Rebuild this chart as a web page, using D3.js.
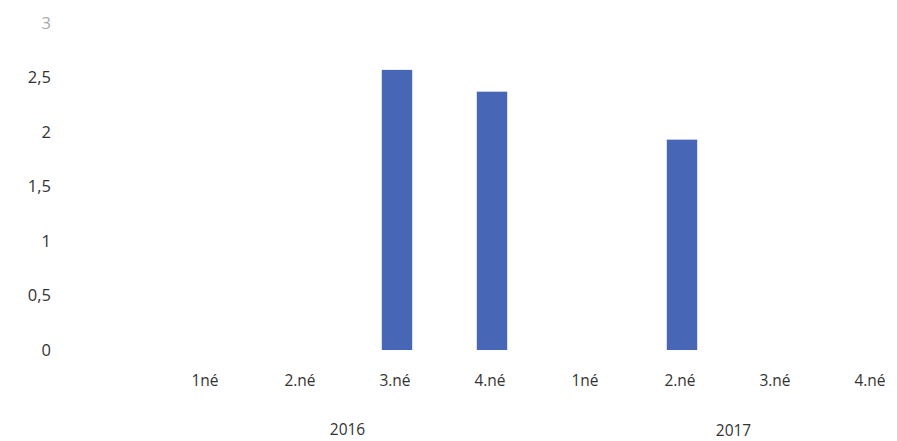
<!DOCTYPE html>
<html>
<head>
<meta charset="utf-8">
<script src="https://cdnjs.cloudflare.com/ajax/libs/d3/7.8.5/d3.min.js"></script>
<style>
  body { margin: 0; background: #fff; }
  text { font-family: "Open Sans", "Liberation Sans", sans-serif; }
</style>
</head>
<body>
<svg width="897" height="441"></svg>
<script>
// data
const years = ['2016', '2017'];
const quarters = ['1né', '2.né', '3.né', '4.né'];
const values2016 = [0, 0, 2.57, 2.37];
const values2017 = [0, 1.93, 0, 0];
const yTicks = [0, 0.5, 1, 1.5, 2, 2.5, 3];

const rows = [];
years.forEach((yr, i) => {
  const vals = i === 0 ? values2016 : values2017;
  quarters.forEach((q, j) => rows.push({ id: yr + '-' + j, year: yr, label: q, value: vals[j] }));
});

const svg = d3.select('svg');
const x = d3.scaleBand()
  .domain(rows.map(d => d.id))
  .range([159.5, 919.5])
  .paddingInner(0.68)
  .paddingOuter(0.34);
const y = d3.scaleLinear().domain([0, 3]).range([350, 23]);

const fmt = d => String(d).replace('.', ',');

// y axis labels
const yAxis = svg.append('g')
  .attr('transform', 'translate(51,0)')
  .call(d3.axisLeft(y).tickValues(yTicks).tickFormat(fmt).tickSize(0).tickPadding(0));
yAxis.select('.domain').remove();
yAxis.selectAll('text')
  .attr('font-size', 16.5)
  .attr('fill', d => d === 3 ? '#aaa' : '#333');

// bars
svg.append('g').selectAll('rect')
  .data(rows.filter(d => d.value > 0))
  .join('rect')
  .attr('x', d => x(d.id))
  .attr('width', x.bandwidth())
  .attr('y', d => y(d.value))
  .attr('height', d => y(0) - y(d.value))
  .attr('fill', '#4766b6');

// category labels
const xAxis = svg.append('g')
  .attr('transform', 'translate(-2,375)')
  .call(d3.axisBottom(x).tickFormat(id => rows.find(r => r.id === id).label).tickSize(0).tickPadding(0));
xAxis.select('.domain').remove();
xAxis.selectAll('text').attr('font-size', 15.5).attr('fill', '#333');

// year labels
svg.append('g').selectAll('text')
  .data(years)
  .join('text')
  .attr('x', yr => {
    const ids = rows.filter(r => r.year === yr).map(r => r.id);
    return (x(ids[0]) + x(ids[ids.length - 1]) + x.bandwidth()) / 2 + (yr === '2017' ? 4 : -2);
  })
  .attr('y', (yr, i) => 435 + i * 1)
  .attr('text-anchor', 'middle')
  .attr('font-size', 15.5)
  .attr('fill', '#333')
  .text(d => d);
</script>
</body>
</html>
